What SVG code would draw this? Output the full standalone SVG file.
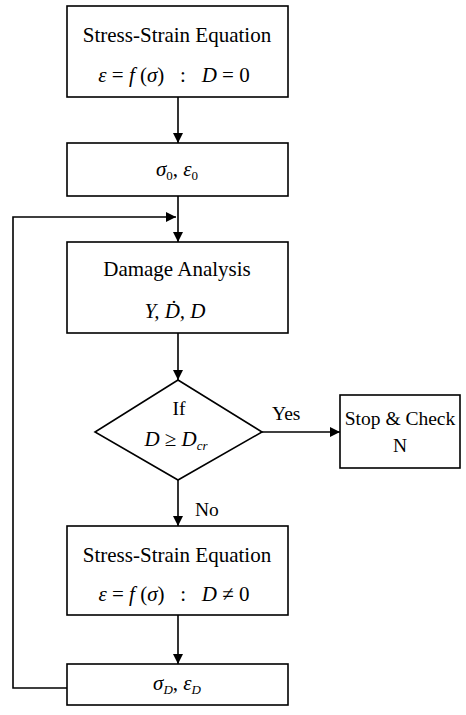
<svg xmlns="http://www.w3.org/2000/svg" width="466" height="715" viewBox="0 0 466 715">
<defs>
<style>
.box{fill:#fff;stroke:#000;stroke-width:1.6}
.ln{fill:none;stroke:#000;stroke-width:1.6}
text{font-family:"Liberation Serif","Times New Roman",serif;font-size:21px;fill:#000}
.c{text-anchor:middle}
.i{font-style:italic}
.sub{font-size:13px}
.s{font-size:19.5px}
</style>
<marker id="ah" viewBox="0 0 10 10" refX="10" refY="5" markerWidth="10" markerHeight="10" markerUnits="userSpaceOnUse" orient="auto">
<path d="M0,0 L10,5 L0,10 Z" fill="#000"/>
</marker>
</defs>
<g id="connectors">
<line class="ln" x1="178" y1="97" x2="178" y2="143" marker-end="url(#ah)"/>
<line class="ln" x1="178" y1="196" x2="178" y2="242" marker-end="url(#ah)"/>
<polyline class="ln" points="67,688 13,688 13,217 176,217" marker-end="url(#ah)"/>
<line class="ln" x1="178" y1="333" x2="178" y2="380" marker-end="url(#ah)"/>
<line class="ln" x1="262" y1="432" x2="340" y2="432" marker-end="url(#ah)"/>
<line class="ln" x1="178" y1="480" x2="178" y2="526" marker-end="url(#ah)"/>
<line class="ln" x1="178" y1="615" x2="178" y2="664" marker-end="url(#ah)"/>
<text class="s" x="272" y="420">Yes</text>
<text class="s" x="195" y="516">No</text>
</g>
<g id="n1">
<rect class="box" x="67" y="6" width="221" height="91"/>
<text class="c" x="177" y="42">Stress-Strain Equation</text>
<text class="c" x="174" y="82" xml:space="preserve"><tspan class="i">ε</tspan> = <tspan class="i">f</tspan> (<tspan class="i">σ</tspan>)   :   <tspan class="i">D</tspan> = 0</text>
</g>
<g id="n2">
<rect class="box" x="67" y="143" width="221" height="53"/>
<text class="c" x="177" y="176"><tspan class="i">σ</tspan><tspan class="sub" dy="4">0</tspan><tspan dy="-4">, </tspan><tspan class="i">ε</tspan><tspan class="sub" dy="4">0</tspan></text>
</g>
<g id="n3">
<rect class="box" x="67" y="242" width="221" height="91"/>
<text class="c" x="177" y="276">Damage Analysis</text>
<text class="c i" x="175" y="318">Y, Ḋ, D</text>
</g>
<g id="n4">
<polygon class="box" points="178,380 262,432 178,480 95,432"/>
<text class="c s" x="179" y="415">If</text>
<text class="c" x="176" y="446"><tspan class="i">D</tspan> ≥ <tspan class="i">D</tspan><tspan class="i sub" dy="4">cr</tspan></text>
</g>
<g id="n5">
<rect class="box" x="340" y="395" width="120" height="73"/>
<text class="c s" x="400" y="425">Stop &amp; Check</text>
<text class="c s" x="400" y="452">N</text>
</g>
<g id="n6">
<rect class="box" x="67" y="526" width="221" height="89"/>
<text class="c" x="177" y="562">Stress-Strain Equation</text>
<text class="c" x="174" y="601" xml:space="preserve"><tspan class="i">ε</tspan> = <tspan class="i">f</tspan> (<tspan class="i">σ</tspan>)   :   <tspan class="i">D</tspan> ≠ 0</text>
</g>
<g id="n7">
<rect class="box" x="67" y="664" width="221" height="41"/>
<text class="c" x="177" y="690"><tspan class="i">σ</tspan><tspan class="sub i" dy="4">D</tspan><tspan dy="-4">, </tspan><tspan class="i">ε</tspan><tspan class="sub i" dy="4">D</tspan></text>
</g>
</svg>
